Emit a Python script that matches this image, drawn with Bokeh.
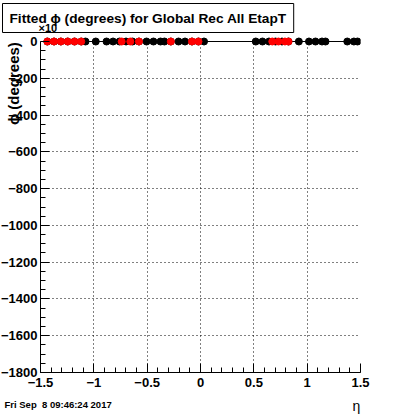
from bokeh.plotting import figure
from bokeh.layouts import column
from bokeh.models import (Range1d, SingleIntervalTicker, FixedTicker,
                          CustomJSTickFormatter)
from bokeh.core.properties import value
from bokeh.embed import file_html
from bokeh.resources import INLINE

title_text = "Fitted \u03d5 (degrees) for Global Rec All EtapT"
x_label = "\u03b7"
y_label = "\u03d5 (degrees)"
y_exponent = "\u00d710"
timestamp = "Fri Sep \u00a08 09:46:24 2017"

# all fitted points (black)
eta_all = [-1.436, -1.373, -1.309, -1.245, -1.181, -1.118, -1.078, -0.982,
           -0.881, -0.820, -0.759, -0.698, -0.638, -0.577, -0.506, -0.441,
           -0.375, -0.338, -0.278, -0.206, -0.145, -0.080, -0.019, 0.033,
           0.518, 0.581, 0.642, 0.703, 0.764, 0.825, 0.922, 1.017,
           1.078, 1.139, 1.172, 1.376, 1.438, 1.472]
phi_all = [0.0, 0.0, 0.0, 0.0, 0.0, 0.0, 0.0, 0.0,
           0.0, 0.0, 0.0, 0.0, 0.0, 0.0, 0.0, 0.0,
           0.0, 0.0, 0.0, 0.0, 0.0, 0.0, 0.0, 0.0,
           0.0, 0.0, 0.0, 0.0, 0.0, 0.0, 0.0, 0.0,
           0.0, 0.0, 0.0, 0.0, 0.0, 0.0]

# highlighted points (red)
eta_red = [-1.436, -1.373, -1.309, -1.245, -1.181, -1.118, -0.739, -0.658,
           -0.577, -0.278, -0.080, -0.019, 0.673, 0.731, 0.792, 0.825]
phi_red = [0.0, 0.0, 0.0, 0.0, 0.0, 0.0, 0.0, 0.0,
           0.0, 0.0, 0.0, 0.0, 0.0, 0.0, 0.0, 0.0]

x_grid_ticks = [-1.0, -0.5, 0.0, 0.5, 1.0]
y_grid_ticks = [-1600, -1400, -1200, -1000, -800, -600, -400, -200]

FONT = "Liberation Sans"
W = 400


def blank(height, y0, y1):
    f = figure(width=W, height=height, x_range=Range1d(0, W),
               y_range=Range1d(y0, y1), output_backend="svg",
               toolbar_location=None, min_border=0,
               x_axis_type=None, y_axis_type=None)
    f.outline_line_color = None
    f.grid.visible = False
    f.background_fill_color = "white"
    f.border_fill_color = "white"
    f.frame_align = False
    return f


# ---- top strip: title box ----
pt = blank(33, 33, 0)
pt.text(x=[2], y=[17.5], text=[title_text], text_font=value(FONT),
        text_font_style="bold", text_font_size="13.7px", text_color="black",
        text_align="left", text_baseline="middle",
        background_fill_color="white", border_line_color="black",
        border_line_width=1, padding=7)
pt.text(x=[38], y=[27], text=[y_exponent], text_font=value(FONT),
        text_font_style="bold", text_font_size="11px", text_color="black",
        text_align="left", text_baseline="middle")

# ---- main plot ----
p = figure(width=W, height=362,
           x_range=Range1d(-1.5, 1.5), y_range=Range1d(-1800, 27.2),
           output_backend="svg", toolbar_location=None,
           min_border_left=40, min_border_right=40,
           min_border_top=3, min_border_bottom=23)
p.outline_line_color = None
p.background_fill_color = "white"
p.border_fill_color = "white"
p.frame_align = False

p.xaxis.ticker = SingleIntervalTicker(interval=0.5, num_minor_ticks=5)
p.yaxis.ticker = SingleIntervalTicker(interval=200, num_minor_ticks=4)
fmt = ("var s = String(Number(Math.abs(tick).toFixed(3)));"
       "return tick < -1e-9 ? '\\u2212' + s : s;")
p.xaxis.formatter = CustomJSTickFormatter(code=fmt)
p.yaxis.formatter = CustomJSTickFormatter(code=fmt)
p.yaxis.bounds = (-1800, 0)
for ax in (p.xaxis[0], p.yaxis[0]):
    ax.axis_line_color = "black"
    ax.axis_line_width = 1
    ax.major_tick_line_color = "black"
    ax.minor_tick_line_color = "black"
    ax.major_tick_in = 9
    ax.major_tick_out = 0
    ax.minor_tick_in = 5
    ax.minor_tick_out = 0
    ax.major_label_text_font = FONT
    ax.major_label_text_font_style = "bold"
    ax.major_label_text_font_size = "13px"
    ax.major_label_text_color = "black"
p.xaxis.major_label_standoff = 5
p.yaxis.major_label_standoff = 3

# y title: overlaps the tick-label column (as in the original); leading
# no-break spaces push the visible words toward the top end of the axis
p.yaxis.axis_label = "\u00a0" * 58 + y_label
p.yaxis.axis_label_text_font = FONT
p.yaxis.axis_label_text_font_style = "bold"
p.yaxis.axis_label_text_font_size = "15px"
p.yaxis.axis_label_text_color = "black"
p.yaxis.axis_label_standoff = -24

p.xgrid.ticker = FixedTicker(ticks=x_grid_ticks)
p.ygrid.ticker = FixedTicker(ticks=y_grid_ticks)
for g in (p.xgrid[0], p.ygrid[0]):
    g.grid_line_color = "black"
    g.grid_line_dash = "1 3"
    g.grid_line_width = 1

p.line(eta_all, phi_all, line_color="black", line_width=1)
p.scatter(eta_all, phi_all, marker="circle", size=7,
          fill_color="black", line_color="black")
p.scatter(eta_red, phi_red, marker="circle", size=7,
          fill_color="red", line_color="red")

# ---- bottom strip: timestamp and x label ----
pb = blank(19, 414, 395)
pb.text(x=[4], y=[404], text=[timestamp], text_font=value(FONT),
        text_font_style="bold", text_font_size="9.5px", text_color="black",
        text_align="left", text_baseline="middle")
pb.text(x=[356], y=[405], text=[x_label], text_font=value(FONT),
        text_font_size="14px", text_color="black",
        text_align="center", text_baseline="middle")

layout = column(pt, p, pb, spacing=0)
open("out.html", "w").write(file_html(layout, INLINE))
